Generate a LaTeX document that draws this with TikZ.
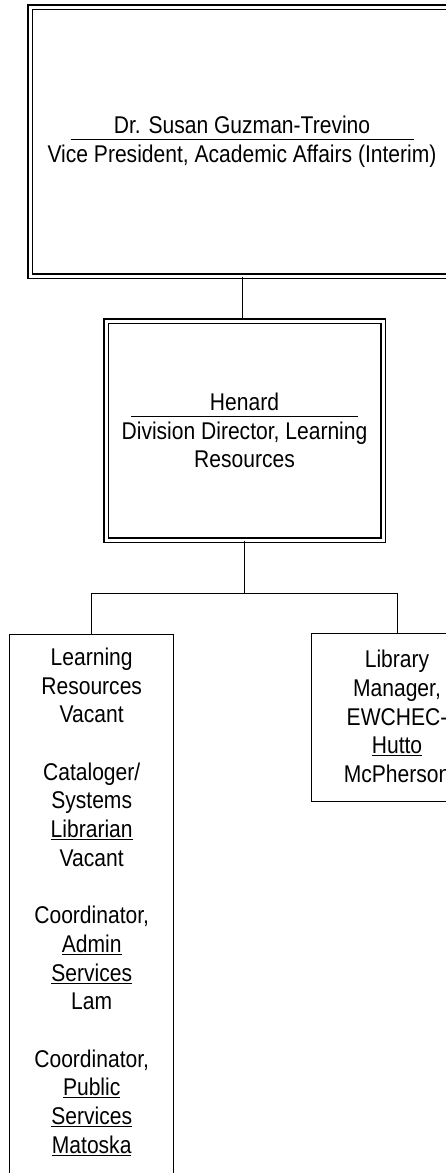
\documentclass[tikz,border=0pt]{standalone}
\usepackage{fontspec}
\setmainfont{Liberation Sans}[FakeStretch=0.87]
\usetikzlibrary{positioning}

% name with a rule under the whole line
\newcommand{\titlerule}[2]{\makebox[#1]{#2}\llap{\rule[-7pt]{#1}{1.2pt}}}

\tikzset{
  headbox/.style={draw, double, double distance=3pt, line width=1.4pt, inner sep=0pt, align=center},
  staffbox/.style={draw, line width=1.3pt, inner sep=0pt},
  stafftext/.style={align=center, inner sep=0pt, anchor=north},
  link/.style={line width=1pt}
}

\begin{document}
\begin{tikzpicture}[x=1pt, y=-1pt, font=\fontsize{24.2}{28.7}\selectfont]
    % Cadre de la page
    \useasboundingbox (0,0) rectangle (446,1173);
    \fill[white] (0,0) rectangle (446,1173);
    \clip (0,0) rectangle (446,1173);

    % Vice-presidente
    \node[headbox, minimum width=424pt, minimum height=269pt] (vp) at (242,141.5)
        {\titlerule{343pt}{Dr. Susan Guzman-Trevino}\\Vice President, Academic Affairs (Interim)};

    % Directeur de division
    \node[headbox, minimum width=277pt, minimum height=219pt] (dir) at (244.5,430.5)
        {\titlerule{227pt}{Henard}\\Division Director, Learning\\Resources};

    % Boites du personnel
    \node[staffbox, anchor=north, minimum width=164pt, minimum height=570pt] (lr) at (91.7,633.6) {};
    \node[stafftext, below=14.1pt of lr.north] (lrtext)
        {Learning\\Resources\\Vacant\\[28.7pt]
         Cataloger/\\Systems\\\underline{Librarian}\\Vacant\\[28.7pt]
         Coordinator,\\\underline{Admin}\\\underline{Services}\\Lam\\[28.7pt]
         Coordinator,\\\underline{Public}\\\underline{Services}\\\underline{Matoska}};

    \node[staffbox, minimum width=171pt, minimum height=168pt] (lib) at (397,717.5) {};
    \node[stafftext, below=17.1pt of lib.north] (libtext)
        {Library\\Manager,\\EWCHEC-\\\underline{Hutto}\\McPherson};

    % Liens
    \draw[link] (vp.south) -- (vp.south |- dir.north);
    \draw[link] (dir.south) -- ++(0,53) coordinate (fork);
    \draw[link] (lr.north) |- (fork) -| (lib.north);
\end{tikzpicture}
\end{document}
